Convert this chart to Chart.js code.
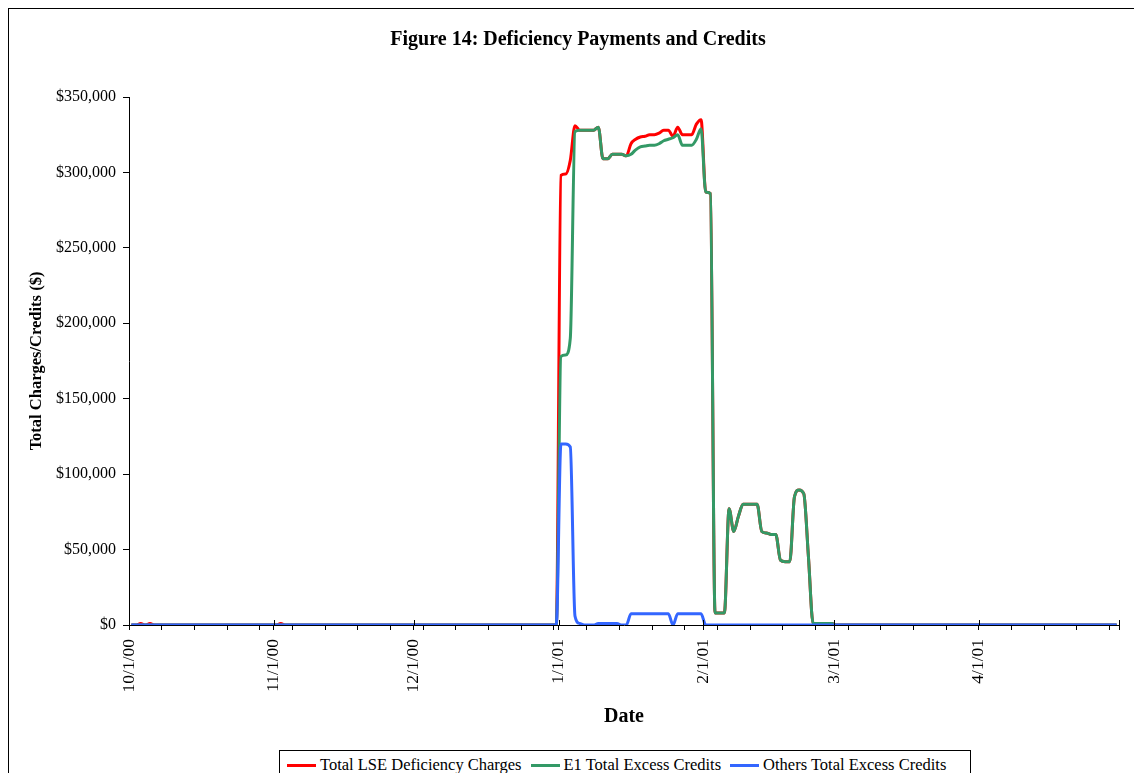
<!DOCTYPE html>
<html>
<head>
<meta charset="utf-8">
<title>Figure 14: Deficiency Payments and Credits</title>
<script src="https://cdn.jsdelivr.net/npm/chart.js@4.4.1/dist/chart.umd.min.js"></script>
<style>
  html, body { margin: 0; padding: 0; background: #fff; }
  #wrap { position: relative; width: 1134px; height: 773px; overflow: hidden; font-family: "Liberation Serif", "Times New Roman", serif; }
  #frame { position: absolute; left: 8px; top: 8px; width: 1200px; height: 800px; border: 1px solid #000; }
  #chart { position: absolute; left: 0; top: 0; }
  #legend { position: absolute; left: 279px; top: 750px; width: 692px; height: 30px; border: 1px solid #000; background: #fff;
            display: flex; align-items: center; padding-left: 7px; box-sizing: border-box; font-size: 16.5px; white-space: nowrap; }
  #legend .sw { display: inline-block; width: 29px; height: 3px; margin-right: 4px; }
  #legend .item { display: flex; align-items: center; margin-right: 9px; }
</style>
</head>
<body>
<div id="wrap">
  <div id="frame"></div>
  <canvas id="chart" width="1134" height="773"></canvas>
  <div id="legend"></div>
</div>
<script>
// daily values, 10/1/00 .. 4/30/01 (one row per month)
const lseCharges = [
    0, 0, 1000, 0, 1000, 0, 0, 0, 0, 0, 0, 0, 0, 0, 0, 0, 0, 0, 0, 0, 0, 0, 0, 0, 0, 0, 0, 0, 0, 0, 0,
    0, 1000, 0, 0, 0, 0, 0, 0, 0, 0, 0, 0, 0, 0, 0, 0, 0, 0, 0, 0, 0, 0, 0, 0, 0, 0, 0, 0, 0, 0,
    0, 0, 0, 0, 0, 0, 0, 0, 0, 0, 0, 0, 0, 0, 0, 0, 0, 0, 0, 0, 0, 0, 0, 0, 0, 0, 0, 0, 0, 0, 0,
    298000, 299000, 308000, 331000, 328000, 328000, 328000, 328000, 330000, 309000, 309000, 312000, 312000, 312000, 311000, 319000,
    322000, 323500, 324000, 325000, 325000, 326000, 328000, 328000, 324000, 330000, 325000, 325000, 325000, 332000, 335000,
    287000, 286000, 8000, 8000, 8000, 77000, 62000, 72000, 80000, 80000, 80000, 80000, 62000, 61000,
    60000, 60000, 43000, 42000, 42000, 85000, 89500, 87000, 45000, 1000, 1000, 1000, 1000, 1000,
    0, 0, 0, 0, 0, 0, 0, 0, 0, 0, 0, 0, 0, 0, 0, 0, 0, 0, 0, 0, 0, 0, 0, 0, 0, 0, 0, 0, 0, 0, 0,
    0, 0, 0, 0, 0, 0, 0, 0, 0, 0, 0, 0, 0, 0, 0, 0, 0, 0, 0, 0, 0, 0, 0, 0, 0, 0, 0, 0, 0, 0
];
const e1Credits = [
    0, 0, 0, 0, 0, 0, 0, 0, 0, 0, 0, 0, 0, 0, 0, 0, 0, 0, 0, 0, 0, 0, 0, 0, 0, 0, 0, 0, 0, 0, 0,
    0, 0, 0, 0, 0, 0, 0, 0, 0, 0, 0, 0, 0, 0, 0, 0, 0, 0, 0, 0, 0, 0, 0, 0, 0, 0, 0, 0, 0, 0,
    0, 0, 0, 0, 0, 0, 0, 0, 0, 0, 0, 0, 0, 0, 0, 0, 0, 0, 0, 0, 0, 0, 0, 0, 0, 0, 0, 0, 0, 0, 0,
    178000, 179000, 190000, 327000, 328000, 328000, 328000, 328000, 330000, 309000, 309000, 312000, 312000, 312000, 311000, 312000,
    315000, 317000, 317500, 318000, 318000, 319000, 321000, 322000, 323000, 325000, 318000, 318000, 318000, 322000, 329000,
    287000, 286000, 8000, 8000, 8000, 77000, 62000, 72000, 80000, 80000, 80000, 80000, 62000, 61000,
    60000, 60000, 43000, 42000, 42000, 85000, 89500, 87000, 45000, 1000, 1000, 1000, 1000, 1000,
    0, 0, 0, 0, 0, 0, 0, 0, 0, 0, 0, 0, 0, 0, 0, 0, 0, 0, 0, 0, 0, 0, 0, 0, 0, 0, 0, 0, 0, 0, 0,
    0, 0, 0, 0, 0, 0, 0, 0, 0, 0, 0, 0, 0, 0, 0, 0, 0, 0, 0, 0, 0, 0, 0, 0, 0, 0, 0, 0, 0, 0
];
const othersCredits = [
    0, 0, 0, 0, 0, 0, 0, 0, 0, 0, 0, 0, 0, 0, 0, 0, 0, 0, 0, 0, 0, 0, 0, 0, 0, 0, 0, 0, 0, 0, 0,
    0, 0, 0, 0, 0, 0, 0, 0, 0, 0, 0, 0, 0, 0, 0, 0, 0, 0, 0, 0, 0, 0, 0, 0, 0, 0, 0, 0, 0, 0,
    0, 0, 0, 0, 0, 0, 0, 0, 0, 0, 0, 0, 0, 0, 0, 0, 0, 0, 0, 0, 0, 0, 0, 0, 0, 0, 0, 0, 0, 0, 0,
    120000, 120000, 118000, 6000, 1000, 0, 0, 0, 1000, 1000, 1000, 1000, 1000, 0, 0, 7500,
    7500, 7500, 7500, 7500, 7500, 7500, 7500, 7500, 0, 7500, 7500, 7500, 7500, 7500, 7500,
    0, 0, 0, 0, 0, 0, 0, 0, 0, 0, 0, 0, 0, 0, 0, 0, 0, 0, 0, 0, 0, 0, 0, 0, 0, 0, 0, 0,
    0, 0, 0, 0, 0, 0, 0, 0, 0, 0, 0, 0, 0, 0, 0, 0, 0, 0, 0, 0, 0, 0, 0, 0, 0, 0, 0, 0, 0, 0, 0,
    0, 0, 0, 0, 0, 0, 0, 0, 0, 0, 0, 0, 0, 0, 0, 0, 0, 0, 0, 0, 0, 0, 0, 0, 0, 0, 0, 0, 0, 0
];

const seriesNames = ['Total LSE Deficiency Charges', 'E1 Total Excess Credits', 'Others Total Excess Credits'];
const seriesColors = ['#ff0000', '#339966', '#3366ff'];

// month start positions (days since 10/1/00) and their labels
const monthStarts = [0, 31, 61, 92, 123, 151, 182, 212];
const monthLabels = ['10/1/00', '11/1/00', '12/1/00', '1/1/01', '2/1/01', '3/1/01', '4/1/01', ''];

const FONT = '"Liberation Serif", "Times New Roman", serif';

// points sit in the middle of each day's slot
function toPoints(values) {
    return values.map((v, i) => ({ x: i + 0.5, y: v }));
}

function moneyLabel(v) {
    return '$' + Number(v).toLocaleString('en-US');
}

const chartDecor = {
    id: 'chartDecor',
    afterDraw(chart) {
        const ctx = chart.ctx;
        const xs = chart.scales.x;
        const bottom = chart.chartArea.bottom;
        ctx.save();
        // major ticks cross the axis
        ctx.strokeStyle = '#000';
        ctx.lineWidth = 1;
        monthStarts.forEach(d => {
            const px = Math.round(xs.getPixelForValue(d)) + 0.5;
            ctx.beginPath();
            ctx.moveTo(px, bottom - 5);
            ctx.lineTo(px, bottom);
            ctx.stroke();
        });
        // title
        ctx.fillStyle = '#000';
        ctx.font = 'bold 20px ' + FONT;
        ctx.textAlign = 'center';
        ctx.textBaseline = 'middle';
        ctx.fillText('Figure 14: Deficiency Payments and Credits', 578, 40);
        ctx.restore();
    }
};

const ctx = document.getElementById('chart').getContext('2d');
const datasetValues = [lseCharges, e1Credits, othersCredits];

const myChart = new Chart(ctx, {
    type: 'line',
    data: {
        datasets: datasetValues.map((vals, i) => ({
            label: seriesNames[i],
            data: toPoints(vals),
            borderColor: seriesColors[i],
            backgroundColor: seriesColors[i],
            borderWidth: 3,
            pointRadius: 0,
            cubicInterpolationMode: 'monotone',
            borderJoinStyle: 'round',
            fill: false,
            order: 3 - i
        }))
    },
    options: {
        responsive: false,
        animation: false,
        devicePixelRatio: 1,
        layout: { padding: { top: 97, right: 15, bottom: 0, left: 0 } },
        plugins: {
            legend: { display: false },
            title: { display: false },
            tooltip: { enabled: false }
        },
        scales: {
            x: {
                type: 'linear',
                min: 0,
                max: 212,
                afterFit(scale) {
                    scale.height = 148;
                    scale.paddingLeft = 0;
                    scale.paddingRight = 0;
                },
                afterBuildTicks(scale) {
                    const ticks = [];
                    for (let d = 0; d <= 212; d += 7) ticks.push(d);
                    monthStarts.forEach(d => { if (!ticks.includes(d)) ticks.push(d); });
                    ticks.sort((a, b) => a - b);
                    scale.ticks = ticks.map(v => ({ value: v }));
                },
                ticks: {
                    autoSkip: false,
                    minRotation: 90,
                    maxRotation: 90,
                    padding: 9,
                    color: '#000',
                    font: { family: FONT, size: 17.5 },
                    callback(value) {
                        const i = monthStarts.indexOf(value);
                        return i >= 0 ? monthLabels[i] : '';
                    }
                },
                grid: { drawOnChartArea: false, drawTicks: true, tickLength: 5, color: '#000' },
                border: { display: true, color: '#000', width: 1 },
                title: {
                    display: true,
                    text: 'Date',
                    color: '#000',
                    font: { family: FONT, size: 20, weight: 'bold' },
                    padding: { top: 0, bottom: 44 }
                }
            },
            y: {
                min: 0,
                max: 350000,
                afterFit(scale) {
                    scale.width = 129;
                    scale.paddingTop = 0;
                    scale.paddingBottom = 0;
                },
                ticks: {
                    stepSize: 50000,
                    padding: 7,
                    color: '#000',
                    font: { family: FONT, size: 16 },
                    callback: moneyLabel
                },
                grid: { drawOnChartArea: false, drawTicks: true, tickLength: 6, color: '#000' },
                border: { display: true, color: '#000', width: 1 },
                title: {
                    display: true,
                    text: 'Total Charges/Credits ($)',
                    color: '#000',
                    font: { family: FONT, size: 16.5, weight: 'bold' },
                    padding: { top: 27, bottom: 0 }
                }
            }
        }
    },
    plugins: [chartDecor]
});

// legend
const legendEl = document.getElementById('legend');
seriesNames.forEach((name, i) => {
    legendEl.insertAdjacentHTML('beforeend',
        `<span class="item"><span class="sw" style="background:${seriesColors[i]}"></span>${name}</span>`);
});
</script>
</body>
</html>
